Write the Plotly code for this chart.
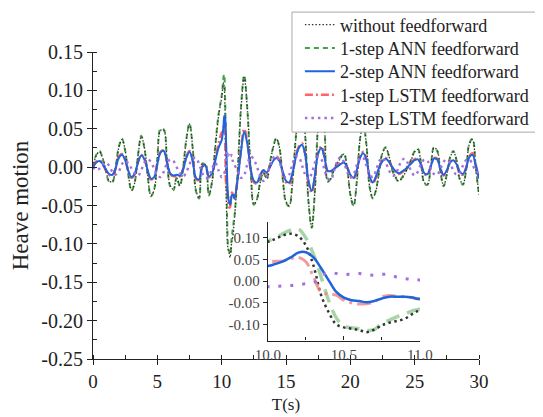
import numpy as np
import plotly.graph_objects as go

# time grid: 0.25 s steps, finer 0.05 s steps inside the zoomed window 10-11 s
t = np.concatenate([np.arange(0, 10.0001, 0.25),
                    np.arange(10.05, 11.0001, 0.05),
                    np.arange(11.25, 30.0001, 0.25)])

### without feedforward
black = [0.000, 0.015, 0.020, 0.012, -0.004, -0.018, -0.019, -0.002, 0.025, 0.036,
         0.022, -0.010, -0.030, -0.020, 0.015, 0.040, 0.025, -0.010, -0.037, -0.030,
         0.010, 0.048, 0.048, 0.010, -0.024, -0.029, -0.014, -0.024, -0.002, 0.035,
         0.056, 0.025, -0.030, -0.040, 0.004, 0.003, -0.036, -0.020, 0.025, 0.065,
         0.091] + \
        [0.098, 0.106, 0.110, 0.104, 0.083, 0.036, -0.032, -0.072, -0.100, -0.107,
         -0.110, -0.113, -0.118, -0.112, -0.102, -0.096, -0.092, -0.087, -0.076, -0.066] + \
        [-0.005, 0.075, 0.117, 0.075, 0.000, -0.048, -0.042, -0.020, -0.008, -0.015,
         0.005, 0.025, 0.037, 0.025, -0.015, -0.045, -0.050, -0.020, 0.035, 0.075,
         0.082, 0.040, -0.045, -0.078, -0.030, 0.055, 0.088, 0.050, -0.018, -0.015,
         -0.002, 0.005, 0.012, 0.017, 0.000, -0.035, -0.050, -0.020, 0.035, 0.056,
         0.030, -0.025, -0.040, -0.030, -0.005, 0.018, 0.025, 0.015, -0.003, -0.012,
         -0.018, -0.015, -0.008, 0.000, 0.010, 0.020, 0.023, 0.005, -0.020, -0.022,
         0.000, 0.025, 0.022, -0.005, -0.024, -0.010, 0.012, 0.020, 0.010, -0.015,
         -0.022, -0.005, 0.030, 0.036, 0.000, -0.036]

### 1-step ANN feedforward
ann1 = [0.000, 0.016, 0.021, 0.011, -0.005, -0.019, -0.020, -0.001, 0.026, 0.037,
        0.021, -0.011, -0.031, -0.019, 0.016, 0.041, 0.024, -0.011, -0.038, -0.029,
        0.011, 0.050, 0.049, 0.009, -0.025, -0.030, -0.013, -0.025, -0.001, 0.036,
        0.057, 0.024, -0.031, -0.041, 0.005, 0.002, -0.037, -0.019, 0.027, 0.068,
        0.093] + \
       [0.100, 0.110, 0.118, 0.121, 0.100, 0.062, 0.010, -0.045, -0.085, -0.104,
        -0.108, -0.110, -0.114, -0.112, -0.098, -0.090, -0.082, -0.076, -0.069, -0.064] + \
       [-0.003, 0.078, 0.120, 0.074, -0.002, -0.049, -0.041, -0.019, -0.007, -0.016,
        0.006, 0.026, 0.038, 0.024, -0.016, -0.046, -0.051, -0.019, 0.036, 0.077,
        0.084, 0.039, -0.046, -0.079, -0.029, 0.057, 0.090, 0.049, -0.019, -0.014,
        -0.001, 0.006, 0.013, 0.018, -0.001, -0.036, -0.051, -0.019, 0.036, 0.057,
        0.029, -0.026, -0.041, -0.029, -0.004, 0.019, 0.026, 0.014, -0.004, -0.013,
        -0.019, -0.014, -0.007, 0.001, 0.011, 0.021, 0.024, 0.004, -0.021, -0.023,
        0.001, 0.026, 0.021, -0.006, -0.025, -0.009, 0.013, 0.021, 0.009, -0.016,
        -0.023, -0.004, 0.031, 0.037, -0.001, -0.037]

### 2-step ANN feedforward
ann2 = [0.000, 0.006, 0.008, 0.004, -0.003, -0.009, -0.010, -0.002, 0.012, 0.016,
        0.009, -0.005, -0.013, -0.008, 0.006, 0.015, 0.010, -0.004, -0.015, -0.013,
        0.004, 0.019, 0.021, 0.006, -0.008, -0.011, -0.010, -0.011, -0.003, 0.012,
        0.020, 0.008, -0.014, -0.016, 0.001, 0.002, -0.012, -0.008, 0.008, 0.025,
        0.035] + \
       [0.040, 0.046, 0.055, 0.066, 0.067, 0.055, 0.030, 0.002, -0.025, -0.038,
        -0.044, -0.046, -0.049, -0.046, -0.040, -0.036, -0.036, -0.036, -0.038, -0.041] + \
       [-0.015, 0.020, 0.046, 0.030, -0.002, -0.018, -0.020, -0.010, -0.004, -0.007,
        0.000, 0.008, 0.012, 0.008, -0.006, -0.018, -0.020, -0.008, 0.012, 0.025,
        0.029, 0.015, -0.018, -0.031, -0.010, 0.018, 0.025, 0.012, -0.005, -0.005,
        -0.002, 0.001, 0.004, 0.006, 0.000, -0.010, -0.014, -0.004, 0.012, 0.018,
        0.010, -0.012, -0.020, -0.012, 0.000, 0.008, 0.011, 0.007, 0.000, -0.005,
        -0.008, -0.006, -0.003, 0.001, 0.005, 0.009, 0.010, 0.003, -0.008, -0.009,
        0.001, 0.011, 0.010, -0.002, -0.010, -0.004, 0.006, 0.009, 0.004, -0.006,
        -0.009, -0.001, 0.013, 0.016, 0.002, -0.015]

### 1-step LSTM feedforward
lstm1 = [0.000, 0.007, 0.009, 0.004, -0.004, -0.010, -0.011, -0.002, 0.013, 0.017,
         0.010, -0.006, -0.014, -0.009, 0.007, 0.016, 0.011, -0.005, -0.016, -0.014,
         0.005, 0.020, 0.022, 0.007, -0.009, -0.012, -0.011, -0.012, -0.003, 0.013,
         0.021, 0.009, -0.015, -0.017, 0.001, 0.003, -0.013, -0.009, 0.010, 0.030,
         0.045] + \
        [0.046, 0.047, 0.052, 0.055, 0.045, 0.010, -0.025, -0.030, -0.032, -0.044,
         -0.050, -0.053, -0.052, -0.048, -0.036, -0.033, -0.035, -0.036, -0.038, -0.041] + \
        [-0.014, 0.022, 0.050, 0.032, -0.003, -0.020, -0.021, -0.011, -0.004, -0.008,
         0.001, 0.009, 0.014, 0.009, -0.007, -0.020, -0.022, -0.009, 0.013, 0.027,
         0.031, 0.016, -0.020, -0.033, -0.011, 0.019, 0.027, 0.013, -0.006, -0.006,
         -0.002, 0.002, 0.005, 0.007, 0.000, -0.011, -0.015, -0.005, 0.013, 0.020,
         0.011, -0.013, -0.021, -0.013, 0.000, 0.009, 0.012, 0.008, 0.000, -0.006,
         -0.009, -0.007, -0.003, 0.002, 0.006, 0.010, 0.011, 0.003, -0.009, -0.010,
         0.001, 0.012, 0.011, -0.002, -0.011, -0.005, 0.007, 0.010, 0.005, -0.007,
         -0.010, -0.001, 0.014, 0.018, 0.003, -0.016]

### 2-step LSTM feedforward
lstm2 = [0.000, -0.004, -0.002, 0.004, 0.006, 0.002, -0.006, -0.010, -0.006, 0.004,
         0.008, 0.005, -0.002, -0.008, -0.011, -0.004, 0.006, 0.010, 0.007, -0.002,
         -0.010, -0.013, -0.006, 0.005, 0.010, 0.008, 0.000, -0.008, -0.012, -0.007,
         0.004, 0.011, 0.012, 0.004, -0.008, -0.014, -0.012, -0.002, 0.006, -0.004,
         -0.013] + \
        [-0.012, -0.011, -0.010, -0.008, -0.006, -0.004, 0.012, 0.020, 0.018, 0.015,
         0.017, 0.018, 0.015, 0.014, 0.016, 0.015, 0.009, 0.006, 0.004, 0.003] + \
        [-0.006, -0.014, -0.010, 0.004, 0.014, 0.010, 0.000, -0.012, -0.018, -0.012,
         0.002, 0.012, 0.014, 0.006, -0.006, -0.014, -0.010, 0.004, 0.014, 0.013,
         0.002, -0.010, -0.016, -0.008, 0.006, 0.014, 0.010, -0.004, -0.015, -0.016,
         -0.004, 0.008, 0.013, 0.006, -0.006, -0.014, -0.010, 0.003, 0.012, 0.012,
         0.002, -0.009, -0.013, -0.004, 0.008, 0.012, 0.006, -0.004, -0.011, -0.010,
         0.000, 0.009, 0.011, 0.004, -0.006, -0.011, -0.006, 0.004, 0.010, 0.008,
         -0.002, -0.009, -0.010, -0.002, 0.007, 0.010, 0.005, -0.004, -0.010, -0.008,
         0.002, 0.009, 0.010, 0.003, -0.005, -0.008]

names = ["without feedforward", "1-step ANN feedforward", "2-step ANN feedforward",
         "1-step LSTM feedforward", "2-step LSTM feedforward"]

# tick labels (hyphen minus, as in the original)
y_ticks = [0.15, 0.10, 0.05, 0.0, -0.05, -0.10, -0.15, -0.20, -0.25]
y_labels = ["0.15", "0.10", "0.05", "0.00", "-0.05", "-0.10", "-0.15", "-0.20", "-0.25"]
yin_ticks = [0.10, 0.05, 0.0, -0.05, -0.10]
yin_labels = ["0.10", "0.05", "0.00", "-0.05", "-0.10"]

FONT = "Liberation Serif"

# (series, name index, main style, inset style) in drawing order
series = [
    (ann1, 1, dict(color="rgba(50,150,50,0.9)", width=2, dash="5px,4px"),
     dict(color="rgba(120,190,120,0.65)", width=3.5, dash="14px,8px")),
    (black, 0, dict(color="#333333", width=1.3, dash="1.5px,2px"),
     dict(color="#333333", width=2.5, dash="2.5px,3.5px")),
    (lstm1, 3, dict(color="rgba(255,60,60,0.8)", width=2.5, dash="8px,3px,2px,3px"),
     dict(color="rgba(240,130,130,0.8)", width=3, dash="14px,5px,3px,5px")),
    (ann2, 2, dict(color="#1e64dc", width=2), dict(color="#1e64dc", width=2.5)),
    (lstm2, 4, dict(color="#a070e0", width=2.4, dash="2.5px,4px"),
     dict(color="#a070e0", width=3, dash="3px,9px")),
]

# legend entries: one small legend per entry so the row spacing can follow the original
legend_rows = [1.088, 1.012, 0.936, 0.860, 0.784]

fig = go.Figure()
for vals, k, st, st_in in series:
    lg = "legend" if k == 0 else "legend%d" % (k + 1)
    fig.add_trace(go.Scatter(x=t, y=vals, mode="lines", name=names[k], legend=lg,
                             line=dict(shape="spline", **st), xaxis="x", yaxis="y"))
for vals, k, st, st_in in series:
    fig.add_trace(go.Scatter(x=t, y=vals, mode="lines", name=names[k], showlegend=False,
                             line=dict(shape="spline", **st_in), xaxis="x2", yaxis="y2"))

axis_common = dict(showline=True, linecolor="#222", linewidth=1.2, showgrid=False,
                   zeroline=False, ticks="outside", tickcolor="#222", mirror=False,
                   automargin=False)

legends = {}
for k, yy in enumerate(legend_rows):
    key = "legend" if k == 0 else "legend%d" % (k + 1)
    legends[key] = dict(x=0.536, y=yy, xanchor="left", yanchor="middle",
                        bgcolor="rgba(0,0,0,0)", borderwidth=0,
                        font=dict(family=FONT, size=18, color="#222"))

fig.update_layout(
    width=543, height=417,
    # the page body adds an 8px offset, so the margins are shifted to compensate
    margin=dict(l=85, r=72, t=44, b=66, autoexpand=False),
    paper_bgcolor="white", plot_bgcolor="rgba(0,0,0,0)",
    font=dict(family=FONT, size=19, color="#222"),
    xaxis=dict(range=[0, 30], dtick=5, domain=[0, 1], ticklen=5,
               minor=dict(dtick=2.5, ticks="inside", ticklen=4, tickcolor="#222"),
               title=dict(text="T(s)", standoff=7, font=dict(size=17)),
               **axis_common),
    yaxis=dict(range=[-0.25, 0.15], tickvals=y_ticks, ticktext=y_labels, domain=[0, 1],
               ticklen=5, tickfont=dict(size=20),
               minor=dict(dtick=0.025, ticks="inside", ticklen=4, tickcolor="#222"),
               title=dict(text="Heave motion", standoff=15, font=dict(size=23)),
               **axis_common),
    xaxis2=dict(range=[10, 11], dtick=0.5, tickformat=".1f", domain=[0.453, 0.847],
                anchor="y2", tickfont=dict(size=15, color="#444"),
                **dict(axis_common, ticks="inside", ticklen=4),
                minor=dict(dtick=0.25, ticks="inside", ticklen=3, tickcolor="#222")),
    yaxis2=dict(range=[-0.1375, 0.1375], tickvals=yin_ticks, ticktext=yin_labels,
                domain=[0.06, 0.447], anchor="x2", ticklen=4,
                tickfont=dict(size=15, color="#444"),
                **axis_common),
    shapes=[dict(type="rect", xref="paper", yref="paper", x0=0.5155, x1=1.2,
                 y0=0.739, y1=1.130, fillcolor="white",
                 line=dict(color="#aaaaaa", width=1), layer="above")],
    showlegend=True,
    **legends,
)

fig.write_html("out.html")
